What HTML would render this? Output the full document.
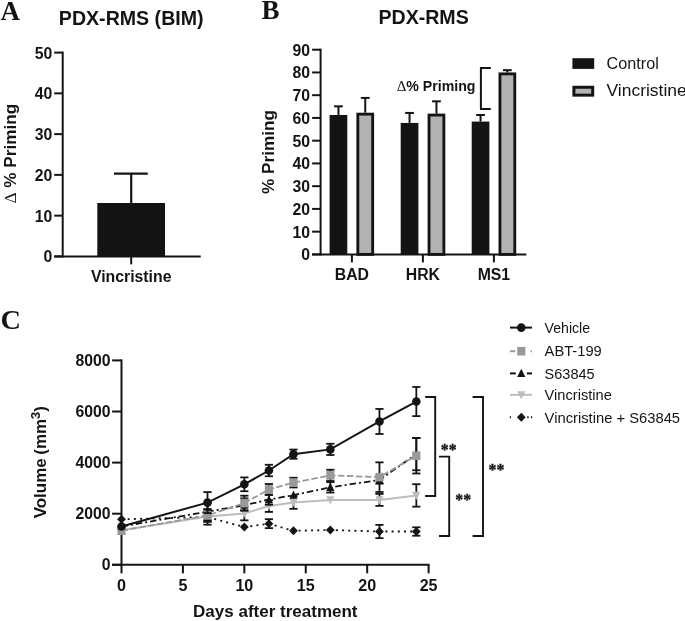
<!DOCTYPE html>
<html lang="en">
<head>
<meta charset="utf-8">
<title>PDX-RMS priming and tumor volume</title>
<style>
html,body{margin:0;padding:0;background:#ffffff;}
body{width:685px;height:621px;overflow:hidden;}
svg{display:block;}
</style>
</head>
<body>
<svg width="685" height="621" viewBox="0 0 685 621">
<rect x="0" y="0" width="685" height="621" fill="#ffffff"/>
<g id="panel-a">
<text x="0.60" y="19.60" font-family='"Liberation Serif", "Times New Roman", serif' font-size="27" font-weight="bold" text-anchor="start" fill="#141414" >A</text>
<text x="131.20" y="25.40" font-family='"Liberation Sans", Arial, sans-serif' font-size="19.6" font-weight="bold" text-anchor="middle" fill="#141414" >PDX-RMS (BIM)</text>
<line x1="62.70" y1="51.60" x2="62.70" y2="257.40" stroke="#141414" stroke-width="2" />
<line x1="54.20" y1="256.40" x2="200.70" y2="256.40" stroke="#141414" stroke-width="2" />
<line x1="54.20" y1="256.40" x2="62.70" y2="256.40" stroke="#141414" stroke-width="2" />
<text x="52.40" y="262.30" font-family='"Liberation Sans", Arial, sans-serif' font-size="15.8" font-weight="bold" text-anchor="end" fill="#141414" >0</text>
<line x1="54.20" y1="215.64" x2="62.70" y2="215.64" stroke="#141414" stroke-width="2" />
<text x="52.40" y="221.54" font-family='"Liberation Sans", Arial, sans-serif' font-size="15.8" font-weight="bold" text-anchor="end" fill="#141414" >10</text>
<line x1="54.20" y1="174.88" x2="62.70" y2="174.88" stroke="#141414" stroke-width="2" />
<text x="52.40" y="180.78" font-family='"Liberation Sans", Arial, sans-serif' font-size="15.8" font-weight="bold" text-anchor="end" fill="#141414" >20</text>
<line x1="54.20" y1="134.12" x2="62.70" y2="134.12" stroke="#141414" stroke-width="2" />
<text x="52.40" y="140.02" font-family='"Liberation Sans", Arial, sans-serif' font-size="15.8" font-weight="bold" text-anchor="end" fill="#141414" >30</text>
<line x1="54.20" y1="93.36" x2="62.70" y2="93.36" stroke="#141414" stroke-width="2" />
<text x="52.40" y="99.26" font-family='"Liberation Sans", Arial, sans-serif' font-size="15.8" font-weight="bold" text-anchor="end" fill="#141414" >40</text>
<line x1="54.20" y1="52.60" x2="62.70" y2="52.60" stroke="#141414" stroke-width="2" />
<text x="52.40" y="58.50" font-family='"Liberation Sans", Arial, sans-serif' font-size="15.8" font-weight="bold" text-anchor="end" fill="#141414" >50</text>
<rect x="97.3" y="203.00" width="67.7" height="53.40" fill="#141414"/>
<line x1="131.20" y1="203.00" x2="131.20" y2="173.66" stroke="#141414" stroke-width="2.2" />
<line x1="114.00" y1="173.66" x2="147.80" y2="173.66" stroke="#141414" stroke-width="2.2" />
<line x1="131.20" y1="256.40" x2="131.20" y2="264.40" stroke="#141414" stroke-width="2" />
<text x="131.20" y="281.50" font-family='"Liberation Sans", Arial, sans-serif' font-size="15.8" font-weight="bold" text-anchor="middle" fill="#141414" >Vincristine</text>
<text x="0.00" y="0.00" font-family='"Liberation Sans", Arial, sans-serif' font-size="17.2" font-weight="bold" text-anchor="middle" fill="#141414" transform="translate(15.7,153.6) rotate(-90)"><tspan font-family='"Liberation Serif", "Times New Roman", serif' font-weight="normal" font-size="17.2">&#916;</tspan> % Priming</text>
</g>
<g id="panel-b">
<text x="261.50" y="18.60" font-family='"Liberation Serif", "Times New Roman", serif' font-size="27" font-weight="bold" text-anchor="start" fill="#141414" >B</text>
<text x="423.60" y="24.20" font-family='"Liberation Sans", Arial, sans-serif' font-size="19.6" font-weight="bold" text-anchor="middle" fill="#141414" >PDX-RMS</text>
<line x1="320.60" y1="48.70" x2="320.60" y2="255.40" stroke="#141414" stroke-width="2" />
<line x1="312.10" y1="254.40" x2="526.30" y2="254.40" stroke="#141414" stroke-width="2" />
<line x1="312.10" y1="254.40" x2="320.60" y2="254.40" stroke="#141414" stroke-width="2" />
<text x="310.00" y="260.40" font-family='"Liberation Sans", Arial, sans-serif' font-size="15.8" font-weight="bold" text-anchor="end" fill="#141414" >0</text>
<line x1="312.10" y1="231.66" x2="320.60" y2="231.66" stroke="#141414" stroke-width="2" />
<text x="310.00" y="237.66" font-family='"Liberation Sans", Arial, sans-serif' font-size="15.8" font-weight="bold" text-anchor="end" fill="#141414" >10</text>
<line x1="312.10" y1="208.91" x2="320.60" y2="208.91" stroke="#141414" stroke-width="2" />
<text x="310.00" y="214.91" font-family='"Liberation Sans", Arial, sans-serif' font-size="15.8" font-weight="bold" text-anchor="end" fill="#141414" >20</text>
<line x1="312.10" y1="186.17" x2="320.60" y2="186.17" stroke="#141414" stroke-width="2" />
<text x="310.00" y="192.17" font-family='"Liberation Sans", Arial, sans-serif' font-size="15.8" font-weight="bold" text-anchor="end" fill="#141414" >30</text>
<line x1="312.10" y1="163.42" x2="320.60" y2="163.42" stroke="#141414" stroke-width="2" />
<text x="310.00" y="169.42" font-family='"Liberation Sans", Arial, sans-serif' font-size="15.8" font-weight="bold" text-anchor="end" fill="#141414" >40</text>
<line x1="312.10" y1="140.68" x2="320.60" y2="140.68" stroke="#141414" stroke-width="2" />
<text x="310.00" y="146.68" font-family='"Liberation Sans", Arial, sans-serif' font-size="15.8" font-weight="bold" text-anchor="end" fill="#141414" >50</text>
<line x1="312.10" y1="117.93" x2="320.60" y2="117.93" stroke="#141414" stroke-width="2" />
<text x="310.00" y="123.93" font-family='"Liberation Sans", Arial, sans-serif' font-size="15.8" font-weight="bold" text-anchor="end" fill="#141414" >60</text>
<line x1="312.10" y1="95.19" x2="320.60" y2="95.19" stroke="#141414" stroke-width="2" />
<text x="310.00" y="101.19" font-family='"Liberation Sans", Arial, sans-serif' font-size="15.8" font-weight="bold" text-anchor="end" fill="#141414" >70</text>
<line x1="312.10" y1="72.44" x2="320.60" y2="72.44" stroke="#141414" stroke-width="2" />
<text x="310.00" y="78.44" font-family='"Liberation Sans", Arial, sans-serif' font-size="15.8" font-weight="bold" text-anchor="end" fill="#141414" >80</text>
<line x1="312.10" y1="49.70" x2="320.60" y2="49.70" stroke="#141414" stroke-width="2" />
<text x="310.00" y="55.70" font-family='"Liberation Sans", Arial, sans-serif' font-size="15.8" font-weight="bold" text-anchor="end" fill="#141414" >90</text>
<line x1="338.45" y1="114.98" x2="338.45" y2="106.33" stroke="#141414" stroke-width="2.0" />
<line x1="334.05" y1="106.33" x2="342.85" y2="106.33" stroke="#141414" stroke-width="2.0" />
<rect x="329.60" y="114.98" width="17.70" height="139.42" fill="#141414"/>
<line x1="365.25" y1="112.70" x2="365.25" y2="97.92" stroke="#141414" stroke-width="2.0" />
<line x1="360.85" y1="97.92" x2="369.65" y2="97.92" stroke="#141414" stroke-width="2.0" />
<rect x="357.82" y="114.13" width="14.85" height="140.27" fill="#b2b2b2" stroke="#141414" stroke-width="2.85"/>
<line x1="409.55" y1="122.94" x2="409.55" y2="112.93" stroke="#141414" stroke-width="2.0" />
<line x1="405.15" y1="112.93" x2="413.95" y2="112.93" stroke="#141414" stroke-width="2.0" />
<rect x="400.70" y="122.94" width="17.70" height="131.46" fill="#141414"/>
<line x1="436.45" y1="113.61" x2="436.45" y2="101.33" stroke="#141414" stroke-width="2.0" />
<line x1="432.05" y1="101.33" x2="440.85" y2="101.33" stroke="#141414" stroke-width="2.0" />
<rect x="429.03" y="115.04" width="14.85" height="139.36" fill="#b2b2b2" stroke="#141414" stroke-width="2.85"/>
<line x1="480.55" y1="121.57" x2="480.55" y2="114.98" stroke="#141414" stroke-width="2.0" />
<line x1="476.15" y1="114.98" x2="484.95" y2="114.98" stroke="#141414" stroke-width="2.0" />
<rect x="471.70" y="121.57" width="17.70" height="132.83" fill="#141414"/>
<line x1="507.35" y1="72.44" x2="507.35" y2="70.17" stroke="#141414" stroke-width="2.0" />
<line x1="502.95" y1="70.17" x2="511.75" y2="70.17" stroke="#141414" stroke-width="2.0" />
<rect x="499.93" y="73.87" width="14.85" height="180.53" fill="#b2b2b2" stroke="#141414" stroke-width="2.85"/>
<line x1="351.90" y1="254.40" x2="351.90" y2="262.40" stroke="#141414" stroke-width="2" />
<text x="351.90" y="279.50" font-family='"Liberation Sans", Arial, sans-serif' font-size="15.8" font-weight="bold" text-anchor="middle" fill="#141414" >BAD</text>
<line x1="422.90" y1="254.40" x2="422.90" y2="262.40" stroke="#141414" stroke-width="2" />
<text x="422.90" y="279.50" font-family='"Liberation Sans", Arial, sans-serif' font-size="15.8" font-weight="bold" text-anchor="middle" fill="#141414" >HRK</text>
<line x1="493.90" y1="254.40" x2="493.90" y2="262.40" stroke="#141414" stroke-width="2" />
<text x="493.90" y="279.50" font-family='"Liberation Sans", Arial, sans-serif' font-size="15.8" font-weight="bold" text-anchor="middle" fill="#141414" >MS1</text>
<text x="0.00" y="0.00" font-family='"Liberation Sans", Arial, sans-serif' font-size="17.2" font-weight="bold" text-anchor="middle" fill="#141414" transform="translate(274.2,152) rotate(-90)">% Priming</text>
<polyline points="490.8,68 480.9,68 480.9,109 490.8,109" fill="none" stroke="#141414" stroke-width="2"/>
<text x="396.70" y="90.70" font-family='"Liberation Sans", Arial, sans-serif' font-size="14.15" font-weight="bold" text-anchor="start" fill="#141414" ><tspan font-family='"Liberation Serif", "Times New Roman", serif' font-weight="normal" font-size="15">&#916;</tspan>% Priming</text>
<rect x="572.4" y="58.2" width="21.8" height="10.7" fill="#141414"/>
<rect x="573.9" y="87.25" width="18.8" height="7.9" fill="#b2b2b2" stroke="#141414" stroke-width="3"/>
<text x="606.60" y="69.20" font-family='"Liberation Sans", Arial, sans-serif' font-size="17.3" font-weight="normal" text-anchor="start" fill="#141414" textLength="52.2" lengthAdjust="spacingAndGlyphs">Control</text>
<text x="606.50" y="96.20" font-family='"Liberation Sans", Arial, sans-serif' font-size="17.3" font-weight="normal" text-anchor="start" fill="#141414" textLength="80.2" lengthAdjust="spacingAndGlyphs">Vincristine</text>
</g>
<g id="panel-c">
<text x="0.60" y="328.80" font-family='"Liberation Serif", "Times New Roman", serif' font-size="28.3" font-weight="bold" text-anchor="start" fill="#141414" >C</text>
<line x1="121.50" y1="359.40" x2="121.50" y2="565.80" stroke="#141414" stroke-width="2" />
<line x1="112.10" y1="564.80" x2="429.60" y2="564.80" stroke="#141414" stroke-width="2" />
<line x1="112.10" y1="564.80" x2="121.50" y2="564.80" stroke="#141414" stroke-width="2" />
<text x="110.50" y="570.10" font-family='"Liberation Sans", Arial, sans-serif' font-size="16.1" font-weight="bold" text-anchor="end" fill="#141414" textLength="8.76" lengthAdjust="spacingAndGlyphs">0</text>
<line x1="112.10" y1="513.70" x2="121.50" y2="513.70" stroke="#141414" stroke-width="2" />
<text x="110.50" y="519.00" font-family='"Liberation Sans", Arial, sans-serif' font-size="16.1" font-weight="bold" text-anchor="end" fill="#141414" textLength="35.03" lengthAdjust="spacingAndGlyphs">2000</text>
<line x1="112.10" y1="462.60" x2="121.50" y2="462.60" stroke="#141414" stroke-width="2" />
<text x="110.50" y="467.90" font-family='"Liberation Sans", Arial, sans-serif' font-size="16.1" font-weight="bold" text-anchor="end" fill="#141414" textLength="35.03" lengthAdjust="spacingAndGlyphs">4000</text>
<line x1="112.10" y1="411.50" x2="121.50" y2="411.50" stroke="#141414" stroke-width="2" />
<text x="110.50" y="416.80" font-family='"Liberation Sans", Arial, sans-serif' font-size="16.1" font-weight="bold" text-anchor="end" fill="#141414" textLength="35.03" lengthAdjust="spacingAndGlyphs">6000</text>
<line x1="112.10" y1="360.40" x2="121.50" y2="360.40" stroke="#141414" stroke-width="2" />
<text x="110.50" y="365.70" font-family='"Liberation Sans", Arial, sans-serif' font-size="16.1" font-weight="bold" text-anchor="end" fill="#141414" textLength="35.03" lengthAdjust="spacingAndGlyphs">8000</text>
<line x1="121.50" y1="564.80" x2="121.50" y2="573.30" stroke="#141414" stroke-width="2" />
<text x="121.50" y="591.00" font-family='"Liberation Sans", Arial, sans-serif' font-size="16.1" font-weight="bold" text-anchor="middle" fill="#141414" >0</text>
<line x1="182.92" y1="564.80" x2="182.92" y2="573.30" stroke="#141414" stroke-width="2" />
<text x="182.92" y="591.00" font-family='"Liberation Sans", Arial, sans-serif' font-size="16.1" font-weight="bold" text-anchor="middle" fill="#141414" >5</text>
<line x1="244.34" y1="564.80" x2="244.34" y2="573.30" stroke="#141414" stroke-width="2" />
<text x="244.34" y="591.00" font-family='"Liberation Sans", Arial, sans-serif' font-size="16.1" font-weight="bold" text-anchor="middle" fill="#141414" >10</text>
<line x1="305.76" y1="564.80" x2="305.76" y2="573.30" stroke="#141414" stroke-width="2" />
<text x="305.76" y="591.00" font-family='"Liberation Sans", Arial, sans-serif' font-size="16.1" font-weight="bold" text-anchor="middle" fill="#141414" >15</text>
<line x1="367.18" y1="564.80" x2="367.18" y2="573.30" stroke="#141414" stroke-width="2" />
<text x="367.18" y="591.00" font-family='"Liberation Sans", Arial, sans-serif' font-size="16.1" font-weight="bold" text-anchor="middle" fill="#141414" >20</text>
<line x1="428.60" y1="564.80" x2="428.60" y2="573.30" stroke="#141414" stroke-width="2" />
<text x="428.60" y="591.00" font-family='"Liberation Sans", Arial, sans-serif' font-size="16.1" font-weight="bold" text-anchor="middle" fill="#141414" >25</text>
<text x="275.30" y="616.60" font-family='"Liberation Sans", Arial, sans-serif' font-size="17.0" font-weight="bold" text-anchor="middle" fill="#141414" >Days after treatment</text>
<text x="0.00" y="0.00" font-family='"Liberation Sans", Arial, sans-serif' font-size="16.95" font-weight="bold" text-anchor="middle" fill="#141414" transform="translate(46.4,462.2) rotate(-90)">Volume<tspan dx="-1">&#160;</tspan>(mm<tspan font-size="12.8" dy="-6.8">3</tspan><tspan dy="6.8">)</tspan></text>
<g class="series-com">
<line x1="207.49" y1="524.69" x2="207.49" y2="509.36" stroke="#141414" stroke-width="1.8" />
<line x1="203.39" y1="509.36" x2="211.59" y2="509.36" stroke="#141414" stroke-width="1.8" />
<line x1="203.39" y1="524.69" x2="211.59" y2="524.69" stroke="#141414" stroke-width="1.8" />
<line x1="268.91" y1="528.14" x2="268.91" y2="519.19" stroke="#141414" stroke-width="1.8" />
<line x1="264.81" y1="519.19" x2="273.01" y2="519.19" stroke="#141414" stroke-width="1.8" />
<line x1="264.81" y1="528.14" x2="273.01" y2="528.14" stroke="#141414" stroke-width="1.8" />
<line x1="379.46" y1="538.15" x2="379.46" y2="524.87" stroke="#141414" stroke-width="1.8" />
<line x1="375.36" y1="524.87" x2="383.56" y2="524.87" stroke="#141414" stroke-width="1.8" />
<line x1="375.36" y1="538.15" x2="383.56" y2="538.15" stroke="#141414" stroke-width="1.8" />
<line x1="416.32" y1="535.72" x2="416.32" y2="527.29" stroke="#141414" stroke-width="1.8" />
<line x1="412.22" y1="527.29" x2="420.42" y2="527.29" stroke="#141414" stroke-width="1.8" />
<line x1="412.22" y1="535.72" x2="420.42" y2="535.72" stroke="#141414" stroke-width="1.8" />
<polyline points="121.50,519.32 207.49,517.02 244.34,527.11 268.91,523.66 293.48,530.82 330.33,530.00 379.46,531.51 416.32,531.51" fill="none" stroke="#141414" stroke-width="1.8" stroke-dasharray="2 4.2"/>
 <polygon points="117.10,519.32 121.50,514.82 125.90,519.32 121.50,523.82" fill="#141414"/>
 <polygon points="203.09,517.02 207.49,512.52 211.89,517.02 207.49,521.52" fill="#141414"/>
 <polygon points="239.94,527.11 244.34,522.61 248.74,527.11 244.34,531.61" fill="#141414"/>
 <polygon points="264.51,523.66 268.91,519.16 273.31,523.66 268.91,528.16" fill="#141414"/>
 <polygon points="289.08,530.82 293.48,526.32 297.88,530.82 293.48,535.32" fill="#141414"/>
 <polygon points="325.93,530.00 330.33,525.50 334.73,530.00 330.33,534.50" fill="#141414"/>
 <polygon points="375.06,531.51 379.46,527.01 383.86,531.51 379.46,536.01" fill="#141414"/>
 <polygon points="411.92,531.51 416.32,527.01 420.72,531.51 416.32,536.01" fill="#141414"/>
</g>
<g class="series-vin">
<line x1="207.49" y1="521.62" x2="207.49" y2="511.40" stroke="#141414" stroke-width="1.8" />
<line x1="203.39" y1="511.40" x2="211.59" y2="511.40" stroke="#141414" stroke-width="1.8" />
<line x1="203.39" y1="521.62" x2="211.59" y2="521.62" stroke="#141414" stroke-width="1.8" />
<line x1="244.34" y1="520.34" x2="244.34" y2="506.55" stroke="#141414" stroke-width="1.8" />
<line x1="240.24" y1="506.55" x2="248.44" y2="506.55" stroke="#141414" stroke-width="1.8" />
<line x1="240.24" y1="520.34" x2="248.44" y2="520.34" stroke="#141414" stroke-width="1.8" />
<line x1="268.91" y1="511.91" x2="268.91" y2="500.16" stroke="#141414" stroke-width="1.8" />
<line x1="264.81" y1="500.16" x2="273.01" y2="500.16" stroke="#141414" stroke-width="1.8" />
<line x1="264.81" y1="511.91" x2="273.01" y2="511.91" stroke="#141414" stroke-width="1.8" />
<line x1="293.48" y1="508.85" x2="293.48" y2="496.07" stroke="#141414" stroke-width="1.8" />
<line x1="289.38" y1="496.07" x2="297.58" y2="496.07" stroke="#141414" stroke-width="1.8" />
<line x1="289.38" y1="508.85" x2="297.58" y2="508.85" stroke="#141414" stroke-width="1.8" />
<line x1="379.46" y1="505.91" x2="379.46" y2="493.90" stroke="#141414" stroke-width="1.8" />
<line x1="375.36" y1="493.90" x2="383.56" y2="493.90" stroke="#141414" stroke-width="1.8" />
<line x1="375.36" y1="505.91" x2="383.56" y2="505.91" stroke="#141414" stroke-width="1.8" />
<line x1="416.32" y1="506.67" x2="416.32" y2="484.19" stroke="#141414" stroke-width="1.8" />
<line x1="412.22" y1="484.19" x2="420.42" y2="484.19" stroke="#141414" stroke-width="1.8" />
<line x1="412.22" y1="506.67" x2="420.42" y2="506.67" stroke="#141414" stroke-width="1.8" />
<polyline points="121.50,530.31 207.49,516.51 244.34,513.44 268.91,506.03 293.48,502.46 330.33,499.90 379.46,499.90 416.32,495.43" fill="none" stroke="#bdbdbd" stroke-width="2" />
<polygon points="117.40,526.71 125.60,526.71 121.50,534.91" fill="#bdbdbd"/>
<polygon points="203.39,512.91 211.59,512.91 207.49,521.11" fill="#bdbdbd"/>
<polygon points="240.24,509.84 248.44,509.84 244.34,518.04" fill="#bdbdbd"/>
<polygon points="264.81,502.43 273.01,502.43 268.91,510.63" fill="#bdbdbd"/>
<polygon points="289.38,498.86 297.58,498.86 293.48,507.06" fill="#bdbdbd"/>
<polygon points="326.23,496.30 334.43,496.30 330.33,504.50" fill="#bdbdbd"/>
<polygon points="375.36,496.30 383.56,496.30 379.46,504.50" fill="#bdbdbd"/>
<polygon points="412.22,491.83 420.42,491.83 416.32,500.03" fill="#bdbdbd"/>
</g>
<g class="series-s63">
<line x1="207.49" y1="520.09" x2="207.49" y2="503.22" stroke="#141414" stroke-width="1.8" />
<line x1="203.39" y1="503.22" x2="211.59" y2="503.22" stroke="#141414" stroke-width="1.8" />
<line x1="203.39" y1="520.09" x2="211.59" y2="520.09" stroke="#141414" stroke-width="1.8" />
<line x1="244.34" y1="510.51" x2="244.34" y2="498.37" stroke="#141414" stroke-width="1.8" />
<line x1="240.24" y1="498.37" x2="248.44" y2="498.37" stroke="#141414" stroke-width="1.8" />
<line x1="240.24" y1="510.51" x2="248.44" y2="510.51" stroke="#141414" stroke-width="1.8" />
<line x1="268.91" y1="504.76" x2="268.91" y2="494.54" stroke="#141414" stroke-width="1.8" />
<line x1="264.81" y1="494.54" x2="273.01" y2="494.54" stroke="#141414" stroke-width="1.8" />
<line x1="264.81" y1="504.76" x2="273.01" y2="504.76" stroke="#141414" stroke-width="1.8" />
<line x1="330.33" y1="492.54" x2="330.33" y2="482.07" stroke="#141414" stroke-width="1.8" />
<line x1="326.23" y1="482.07" x2="334.43" y2="482.07" stroke="#141414" stroke-width="1.8" />
<line x1="326.23" y1="492.54" x2="334.43" y2="492.54" stroke="#141414" stroke-width="1.8" />
<line x1="379.46" y1="483.68" x2="379.46" y2="476.27" stroke="#141414" stroke-width="1.8" />
<line x1="375.36" y1="476.27" x2="383.56" y2="476.27" stroke="#141414" stroke-width="1.8" />
<line x1="375.36" y1="483.68" x2="383.56" y2="483.68" stroke="#141414" stroke-width="1.8" />
<line x1="416.32" y1="470.26" x2="416.32" y2="438.07" stroke="#141414" stroke-width="1.8" />
<line x1="412.22" y1="438.07" x2="420.42" y2="438.07" stroke="#141414" stroke-width="1.8" />
<line x1="412.22" y1="470.26" x2="420.42" y2="470.26" stroke="#141414" stroke-width="1.8" />
<polyline points="121.50,526.47 207.49,511.66 244.34,505.27 268.91,499.65 293.48,495.13 330.33,487.31 379.46,479.97 416.32,454.17" fill="none" stroke="#141414" stroke-width="1.8" stroke-dasharray="6.5 3 2 3"/>
<polygon points="117.40,530.07 125.60,530.07 121.50,521.87" fill="#141414"/>
<polygon points="203.39,515.26 211.59,515.26 207.49,507.06" fill="#141414"/>
<polygon points="240.24,508.87 248.44,508.87 244.34,500.67" fill="#141414"/>
<polygon points="264.81,503.25 273.01,503.25 268.91,495.05" fill="#141414"/>
<polygon points="289.38,498.73 297.58,498.73 293.48,490.53" fill="#141414"/>
<polygon points="326.23,490.91 334.43,490.91 330.33,482.71" fill="#141414"/>
<polygon points="375.36,483.57 383.56,483.57 379.46,475.37" fill="#141414"/>
<polygon points="412.22,457.77 420.42,457.77 416.32,449.57" fill="#141414"/>
</g>
<g class="series-abt">
<line x1="207.49" y1="521.67" x2="207.49" y2="509.15" stroke="#141414" stroke-width="1.8" />
<line x1="203.39" y1="509.15" x2="211.59" y2="509.15" stroke="#141414" stroke-width="1.8" />
<line x1="203.39" y1="521.67" x2="211.59" y2="521.67" stroke="#141414" stroke-width="1.8" />
<line x1="244.34" y1="510.51" x2="244.34" y2="495.69" stroke="#141414" stroke-width="1.8" />
<line x1="240.24" y1="495.69" x2="248.44" y2="495.69" stroke="#141414" stroke-width="1.8" />
<line x1="240.24" y1="510.51" x2="248.44" y2="510.51" stroke="#141414" stroke-width="1.8" />
<line x1="268.91" y1="495.00" x2="268.91" y2="484.01" stroke="#141414" stroke-width="1.8" />
<line x1="264.81" y1="484.01" x2="273.01" y2="484.01" stroke="#141414" stroke-width="1.8" />
<line x1="264.81" y1="495.00" x2="273.01" y2="495.00" stroke="#141414" stroke-width="1.8" />
<line x1="293.48" y1="487.46" x2="293.48" y2="477.75" stroke="#141414" stroke-width="1.8" />
<line x1="289.38" y1="477.75" x2="297.58" y2="477.75" stroke="#141414" stroke-width="1.8" />
<line x1="289.38" y1="487.46" x2="297.58" y2="487.46" stroke="#141414" stroke-width="1.8" />
<line x1="330.33" y1="481.00" x2="330.33" y2="469.75" stroke="#141414" stroke-width="1.8" />
<line x1="326.23" y1="469.75" x2="334.43" y2="469.75" stroke="#141414" stroke-width="1.8" />
<line x1="326.23" y1="481.00" x2="334.43" y2="481.00" stroke="#141414" stroke-width="1.8" />
<line x1="379.46" y1="491.98" x2="379.46" y2="462.34" stroke="#141414" stroke-width="1.8" />
<line x1="375.36" y1="462.34" x2="383.56" y2="462.34" stroke="#141414" stroke-width="1.8" />
<line x1="375.36" y1="491.98" x2="383.56" y2="491.98" stroke="#141414" stroke-width="1.8" />
<line x1="416.32" y1="473.48" x2="416.32" y2="437.92" stroke="#141414" stroke-width="1.8" />
<line x1="412.22" y1="437.92" x2="420.42" y2="437.92" stroke="#141414" stroke-width="1.8" />
<line x1="412.22" y1="473.48" x2="420.42" y2="473.48" stroke="#141414" stroke-width="1.8" />
<polyline points="121.50,530.69 207.49,515.41 244.34,503.10 268.91,489.50 293.48,482.61 330.33,475.38 379.46,477.16 416.32,455.70" fill="none" stroke="#999999" stroke-width="1.8" stroke-dasharray="6.5 2.5"/>
<rect x="117.40" y="526.39" width="8.2" height="8.6" fill="#999999"/>
<rect x="203.39" y="511.11" width="8.2" height="8.6" fill="#999999"/>
<rect x="240.24" y="498.80" width="8.2" height="8.6" fill="#999999"/>
<rect x="264.81" y="485.20" width="8.2" height="8.6" fill="#999999"/>
<rect x="289.38" y="478.31" width="8.2" height="8.6" fill="#999999"/>
<rect x="326.23" y="471.07" width="8.2" height="8.6" fill="#999999"/>
<rect x="375.36" y="472.86" width="8.2" height="8.6" fill="#999999"/>
<rect x="412.22" y="451.40" width="8.2" height="8.6" fill="#999999"/>
</g>
<g class="series-veh">
<line x1="207.49" y1="513.09" x2="207.49" y2="492.08" stroke="#141414" stroke-width="1.8" />
<line x1="203.39" y1="492.08" x2="211.59" y2="492.08" stroke="#141414" stroke-width="1.8" />
<line x1="203.39" y1="513.09" x2="211.59" y2="513.09" stroke="#141414" stroke-width="1.8" />
<line x1="244.34" y1="491.22" x2="244.34" y2="477.42" stroke="#141414" stroke-width="1.8" />
<line x1="240.24" y1="477.42" x2="248.44" y2="477.42" stroke="#141414" stroke-width="1.8" />
<line x1="240.24" y1="491.22" x2="248.44" y2="491.22" stroke="#141414" stroke-width="1.8" />
<line x1="268.91" y1="476.27" x2="268.91" y2="464.77" stroke="#141414" stroke-width="1.8" />
<line x1="264.81" y1="464.77" x2="273.01" y2="464.77" stroke="#141414" stroke-width="1.8" />
<line x1="264.81" y1="476.27" x2="273.01" y2="476.27" stroke="#141414" stroke-width="1.8" />
<line x1="293.48" y1="458.77" x2="293.48" y2="449.57" stroke="#141414" stroke-width="1.8" />
<line x1="289.38" y1="449.57" x2="297.58" y2="449.57" stroke="#141414" stroke-width="1.8" />
<line x1="289.38" y1="458.77" x2="297.58" y2="458.77" stroke="#141414" stroke-width="1.8" />
<line x1="330.33" y1="455.01" x2="330.33" y2="443.77" stroke="#141414" stroke-width="1.8" />
<line x1="326.23" y1="443.77" x2="334.43" y2="443.77" stroke="#141414" stroke-width="1.8" />
<line x1="326.23" y1="455.01" x2="334.43" y2="455.01" stroke="#141414" stroke-width="1.8" />
<line x1="379.46" y1="433.98" x2="379.46" y2="408.94" stroke="#141414" stroke-width="1.8" />
<line x1="375.36" y1="408.94" x2="383.56" y2="408.94" stroke="#141414" stroke-width="1.8" />
<line x1="375.36" y1="433.98" x2="383.56" y2="433.98" stroke="#141414" stroke-width="1.8" />
<line x1="416.32" y1="416.12" x2="416.32" y2="386.95" stroke="#141414" stroke-width="1.8" />
<line x1="412.22" y1="386.95" x2="420.42" y2="386.95" stroke="#141414" stroke-width="1.8" />
<line x1="412.22" y1="416.12" x2="420.42" y2="416.12" stroke="#141414" stroke-width="1.8" />
<polyline points="121.50,526.47 207.49,502.59 244.34,484.32 268.91,470.52 293.48,454.17 330.33,449.39 379.46,421.46 416.32,401.54" fill="none" stroke="#141414" stroke-width="2" />
<circle cx="121.50" cy="526.47" r="4.3" fill="#141414"/>
<circle cx="207.49" cy="502.59" r="4.3" fill="#141414"/>
<circle cx="244.34" cy="484.32" r="4.3" fill="#141414"/>
<circle cx="268.91" cy="470.52" r="4.3" fill="#141414"/>
<circle cx="293.48" cy="454.17" r="4.3" fill="#141414"/>
<circle cx="330.33" cy="449.39" r="4.3" fill="#141414"/>
<circle cx="379.46" cy="421.46" r="4.3" fill="#141414"/>
<circle cx="416.32" cy="401.54" r="4.3" fill="#141414"/>
</g>
<polyline points="425.2,397 435.2,397 435.2,496 425.2,496" fill="none" stroke="#141414" stroke-width="1.9"/>
<polyline points="439,456.6 449.2,456.6 449.2,536 439,536" fill="none" stroke="#141414" stroke-width="1.9"/>
<polyline points="472.6,397 483,397 483,536 472.6,536" fill="none" stroke="#141414" stroke-width="1.9"/>
<text x="440.80" y="455.30" font-family='"Liberation Serif", "Times New Roman", serif' font-size="15.8" font-weight="bold" text-anchor="start" fill="#141414" stroke="#141414" stroke-width="0.35">**</text>
<text x="455.30" y="505.00" font-family='"Liberation Serif", "Times New Roman", serif' font-size="15.8" font-weight="bold" text-anchor="start" fill="#141414" stroke="#141414" stroke-width="0.35">**</text>
<text x="488.60" y="475.00" font-family='"Liberation Serif", "Times New Roman", serif' font-size="15.8" font-weight="bold" text-anchor="start" fill="#141414" stroke="#141414" stroke-width="0.35">**</text>
<line x1="510.00" y1="327.60" x2="532.00" y2="327.60" stroke="#141414" stroke-width="2" />
<circle cx="521.30" cy="327.60" r="4.3" fill="#141414"/>
<text x="544.60" y="332.50" font-family='"Liberation Sans", Arial, sans-serif' font-size="14.7" font-weight="normal" text-anchor="start" fill="#141414" textLength="45.5" lengthAdjust="spacingAndGlyphs">Vehicle</text>
<line x1="510.00" y1="351.20" x2="515.20" y2="351.20" stroke="#999999" stroke-width="2" />
<line x1="530.60" y1="351.20" x2="532.00" y2="351.20" stroke="#999999" stroke-width="2" />
<rect x="517.20" y="346.90" width="8.2" height="8.6" fill="#999999"/>
<text x="544.60" y="356.10" font-family='"Liberation Sans", Arial, sans-serif' font-size="14.7" font-weight="normal" text-anchor="start" fill="#141414" textLength="57.2" lengthAdjust="spacingAndGlyphs">ABT-199</text>
<line x1="510.00" y1="373.40" x2="515.80" y2="373.40" stroke="#141414" stroke-width="2" />
<line x1="526.80" y1="373.40" x2="532.00" y2="373.40" stroke="#141414" stroke-width="2" />
<polygon points="517.20,377.00 525.40,377.00 521.30,368.80" fill="#141414"/>
<text x="544.60" y="378.80" font-family='"Liberation Sans", Arial, sans-serif' font-size="14.7" font-weight="normal" text-anchor="start" fill="#141414" textLength="50.1" lengthAdjust="spacingAndGlyphs">S63845</text>
<line x1="510.00" y1="394.80" x2="532.00" y2="394.80" stroke="#bdbdbd" stroke-width="2" />
<polygon points="517.20,391.20 525.40,391.20 521.30,399.40" fill="#bdbdbd"/>
<text x="544.60" y="399.70" font-family='"Liberation Sans", Arial, sans-serif' font-size="14.7" font-weight="normal" text-anchor="start" fill="#141414" textLength="67.2" lengthAdjust="spacingAndGlyphs">Vincristine</text>
<line x1="509.80" y1="417.30" x2="511.00" y2="417.30" stroke="#141414" stroke-width="2" />
<line x1="527.20" y1="417.30" x2="528.60" y2="417.30" stroke="#141414" stroke-width="2" />
<line x1="531.00" y1="417.30" x2="532.20" y2="417.30" stroke="#141414" stroke-width="2" />
 <polygon points="516.90,417.30 521.30,412.80 525.70,417.30 521.30,421.80" fill="#141414"/>
<text x="544.60" y="422.70" font-family='"Liberation Sans", Arial, sans-serif' font-size="14.7" font-weight="normal" text-anchor="start" fill="#141414" textLength="135.5" lengthAdjust="spacingAndGlyphs">Vincristine + S63845</text>
</g>
</svg>
</body>
</html>
